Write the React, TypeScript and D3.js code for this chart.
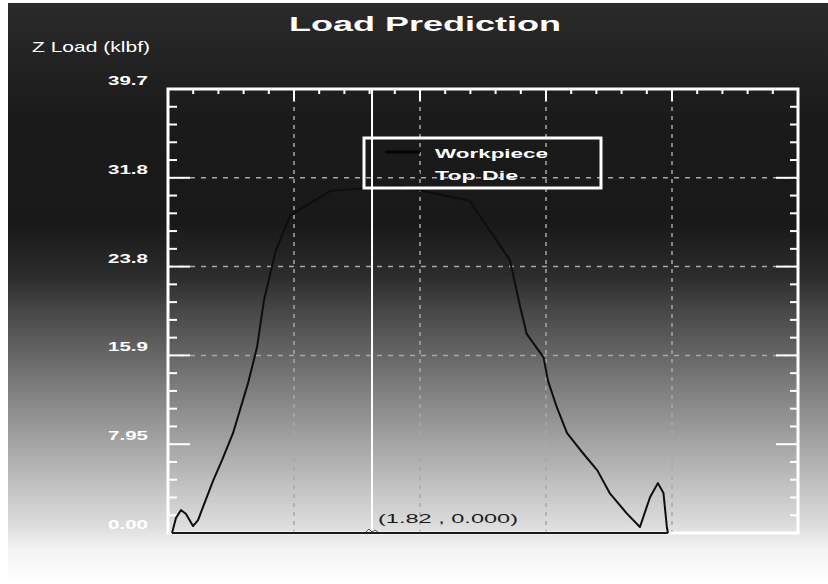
import React from "react";
import * as d3 from "d3";

// Stroke position (x) and predicted load (klbf) for the workpiece
const workX = [
  0.036, 0.071, 0.116, 0.161, 0.223, 0.268, 0.312, 0.401, 0.482, 0.58, 0.714, 0.794, 0.856,
  0.96, 1.09, 1.45, 2.07, 2.69, 3.05, 3.14, 3.2, 3.35, 3.39, 3.47, 3.56, 3.68, 3.83, 3.94,
  4.09, 4.21, 4.3, 4.37, 4.42, 4.45, 4.46,
];
const workLoad = [
  0, 1.34, 2.05, 1.7, 0.62, 1.16, 2.32, 4.64, 6.51, 8.92, 13.4, 16.6, 20.8,
  25.2, 28.4, 30.6, 31.0, 29.7, 24.4, 20.3, 17.8, 15.7, 13.6, 11.2, 8.92, 7.4, 5.6, 3.57,
  1.78, 0.54, 3.2, 4.46, 3.57, 0.54, 0,
];

// Top die load stays at zero over the stroke
const dieX = [0.036, 4.46];
const dieLoad = [0, 0];

const yTickLabels = ["0.00", "7.95", "15.9", "23.8", "31.8", "39.7"];
const seriesNames = ["Workpiece", "Top Die"];
const cursorX = 1.82;
const cursorY = 0.0;

const X_MAX = 5.62;
const Y_MAX = 39.7;

const W = 828;
const H = 584;
const LEFT = 168;
const RIGHT = 798;
const TOP = 89;
const BOTTOM = 533;

const FONT = "'Liberation Sans', Arial, sans-serif";

export default function App() {
  const x = d3.scaleLinear().domain([0, X_MAX]).range([LEFT, RIGHT]);
  const y = d3.scaleLinear().domain([0, Y_MAX]).range([BOTTOM, TOP]);

  const xMinor = d3.range(0, 26).map((i) => (i * X_MAX) / 25);
  const yMinor = d3.range(0, 26).map((i) => (i * Y_MAX) / 25);
  const xMajor = d3.range(1, 5).map((i) => (i * X_MAX) / 5);
  const yMajor = d3.range(0, 6).map((i) => (i * Y_MAX) / 5);

  const line = d3
    .line<[number, number]>()
    .x((d) => x(d[0]))
    .y((d) => y(d[1]));

  const workPath = line(workX.map((v, i) => [v, workLoad[i]]) as [number, number][]) || "";
  const diePath = line(dieX.map((v, i) => [v, dieLoad[i]]) as [number, number][]) || "";

  const cx = x(cursorX);
  const cy = y(cursorY);

  return (
    <svg
      width={W}
      height={H}
      viewBox={`0 0 ${W} ${H}`}
      style={{ position: "absolute", left: 0, top: 0, display: "block" }}
    >
      <defs>
        <linearGradient id="bg" x1="0" y1="0" x2="0" y2="1">
          <stop offset="0" stopColor="#2a2a2a" />
          <stop offset="0.08" stopColor="#242424" />
          <stop offset="0.2" stopColor="#1a1a1a" />
          <stop offset="0.38" stopColor="#191919" />
          <stop offset="0.47" stopColor="#2c2c2c" />
          <stop offset="0.53" stopColor="#474747" />
          <stop offset="0.62" stopColor="#6c6c6c" />
          <stop offset="0.72" stopColor="#959595" />
          <stop offset="0.82" stopColor="#bdbdbd" />
          <stop offset="0.9" stopColor="#dddddd" />
          <stop offset="0.94" stopColor="#f3f3f3" />
          <stop offset="1" stopColor="#ffffff" />
        </linearGradient>
      </defs>

      <rect x={0} y={0} width={W} height={H} fill="#ffffff" />
      <rect x={8} y={3} width={W - 8} height={H - 3} fill="url(#bg)" />

      {/* title and axis name */}
      <text
        x={289}
        y={31}
        fill="#ffffff"
        fontFamily={FONT}
        fontWeight="bold"
        fontSize={20}
        textLength={272}
        lengthAdjust="spacingAndGlyphs"
      >
        Load Prediction
      </text>
      <text
        x={32}
        y={52}
        fill="#ffffff"
        fontFamily={FONT}
        fontSize={15}
        textLength={118}
        lengthAdjust="spacingAndGlyphs"
      >
        Z Load (klbf)
      </text>

      {/* dashed grid */}
      {xMajor.map((v, i) => (
        <line
          key={`gx${i}`}
          x1={x(v)}
          x2={x(v)}
          y1={TOP}
          y2={BOTTOM}
          stroke="#a8a8a8"
          strokeWidth={1.5}
          strokeDasharray="4,5"
        />
      ))}
      {yMajor.slice(1, 5).map((v, i) => (
        <line
          key={`gy${i}`}
          x1={LEFT}
          x2={RIGHT}
          y1={y(v)}
          y2={y(v)}
          stroke="#a8a8a8"
          strokeWidth={1.5}
          strokeDasharray="5,6"
        />
      ))}

      {/* frame */}
      <rect
        x={LEFT}
        y={TOP}
        width={RIGHT - LEFT}
        height={BOTTOM - TOP}
        fill="none"
        stroke="#ffffff"
        strokeWidth={3}
      />

      {/* ticks on top edge */}
      {xMinor.map((v, i) => (
        <line
          key={`tx${i}`}
          x1={x(v)}
          x2={x(v)}
          y1={TOP}
          y2={TOP + (i % 5 === 0 ? 12 : 5)}
          stroke="#ffffff"
          strokeWidth={2}
        />
      ))}
      {/* ticks on left and right edges */}
      {yMinor.map((v, i) => (
        <g key={`ty${i}`}>
          <line
            x1={LEFT}
            x2={LEFT + (i % 5 === 0 ? 22 : 9)}
            y1={y(v)}
            y2={y(v)}
            stroke="#ffffff"
            strokeWidth={2}
          />
          <line
            x1={RIGHT}
            x2={RIGHT - (i % 5 === 0 ? 22 : 8)}
            y1={y(v)}
            y2={y(v)}
            stroke="#ffffff"
            strokeWidth={2}
          />
        </g>
      ))}

      {/* y tick labels */}
      {yTickLabels.map((t, i) => (
        <text
          key={`yl${i}`}
          x={148}
          y={y(yMajor[i]) - 4}
          fill="#ffffff"
          fontFamily={FONT}
          fontWeight="bold"
          fontSize={13}
          textAnchor="end"
          textLength={40}
          lengthAdjust="spacingAndGlyphs"
        >
          {t}
        </text>
      ))}

      {/* cursor */}
      <line x1={cx} x2={cx} y1={TOP} y2={BOTTOM} stroke="#ffffff" strokeWidth={2} />

      {/* series */}
      <path d={diePath} fill="none" stroke="#1a1a1a" strokeWidth={2} />
      <path d={workPath} fill="none" stroke="#0e0e0e" strokeWidth={2} strokeLinejoin="round" />

      {/* cursor marker and readout */}
      <path
        d={`M${cx - 6},${cy - 1} L${cx - 3},${cy - 4} L${cx},${cy - 1} L${cx + 3},${cy - 3} L${cx + 6},${cy - 1}`}
        fill="none"
        stroke="#555555"
        strokeWidth={1}
      />
      <text
        x={cx + 6}
        y={523}
        fill="#1a1a1a"
        fontFamily={FONT}
        fontSize={13}
        textLength={140}
        lengthAdjust="spacingAndGlyphs"
      >
        {`(${cursorX.toFixed(2)} , ${cursorY.toFixed(3)})`}
      </text>

      {/* legend */}
      <rect x={364} y={138} width={237} height={50} fill="none" stroke="#ffffff" strokeWidth={3} />
      <line x1={385} x2={420} y1={152} y2={152} stroke="#050505" strokeWidth={3} />
      <line x1={385} x2={420} y1={174} y2={174} stroke="#1a1a1a" strokeWidth={3} />
      <text
        x={435}
        y={158}
        fill="#ffffff"
        fontFamily={FONT}
        fontWeight="bold"
        fontSize={13}
        textLength={113}
        lengthAdjust="spacingAndGlyphs"
      >
        {seriesNames[0]}
      </text>
      <text
        x={435}
        y={180}
        fill="#ffffff"
        fontFamily={FONT}
        fontWeight="bold"
        fontSize={13}
        textLength={83}
        lengthAdjust="spacingAndGlyphs"
      >
        {seriesNames[1]}
      </text>
    </svg>
  );
}
